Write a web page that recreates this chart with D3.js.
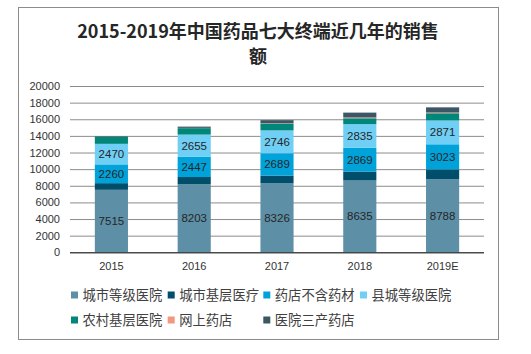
<!DOCTYPE html>
<html><head><meta charset="utf-8">
<script src="https://cdn.jsdelivr.net/npm/d3@7"></script>
<style>body{margin:0;background:#fff}svg{display:block}</style>
</head><body>
<script>
const years = ["2015","2016","2017","2018","2019E"];
const seriesNames = ["城市等级医院","城市基层医疗","药店不含药材","县城等级医院","农村基层医院","网上药店","医院三产药店"];
const cityHospital   = [7515, 8203, 8326, 8635, 8788];
const cityGrassroots = [800, 850, 900, 1080, 1180];
const pharmacy       = [2260, 2447, 2689, 2869, 3023];
const countyHospital = [2470, 2655, 2746, 2835, 2871];
const ruralHospital  = [850, 780, 800, 700, 860];
const onlinePharmacy = [20, 30, 50, 100, 90];
const hospitalStore  = [60, 150, 380, 580, 620];
const labeledSeries  = [0, 2, 3];
const yTicks = [0,2000,4000,6000,8000,10000,12000,14000,16000,18000,20000];
const colors = ["#5d8fa7","#004e6a","#00a2da","#70cff5","#00877a","#f19882","#3b5665"];

const seriesValues = [cityHospital, cityGrassroots, pharmacy, countyHospital, ruralHospital, onlinePharmacy, hospitalStore];
const table = years.map((y,i)=>{ const o={year:y}; seriesNames.forEach((n,k)=>o[n]=seriesValues[k][i]); return o; });

const W=531,H=354;
const svg=d3.select("body").append("svg").attr("width",W).attr("height",H);
svg.append("rect").attr("x",18.5).attr("y",7.5).attr("width",480).attr("height",332)
  .attr("fill","#fff").attr("stroke","#8c8c8c").attr("stroke-width",1);

svg.append("text").attr("x",258).attr("y",38).attr("text-anchor","middle")
  .attr("font-family","Noto Sans CJK SC").attr("font-weight","bold").attr("font-size",18).attr("fill","#262626")
  .text("2015-2019年中国药品七大终端近几年的销售");
svg.append("text").attr("x",258).attr("y",63).attr("text-anchor","middle")
  .attr("font-family","Noto Sans CJK SC").attr("font-weight","bold").attr("font-size",18).attr("fill","#262626")
  .text("额");

const x=d3.scaleBand().domain(years).range([70,484]).paddingInner(0.6).paddingOuter(0.3);
const y=d3.scaleLinear().domain([0,20000]).range([252.3,86]);

// gridlines
const yAxis=d3.axisLeft(y).tickValues(yTicks).tickSize(-(484-70)).tickPadding(10).tickFormat(d3.format("d"));
const gy=svg.append("g").attr("transform","translate(70,0)").call(yAxis);
gy.select(".domain").remove();
gy.selectAll(".tick line").attr("stroke","#8c8c8c").attr("stroke-width",1);
gy.selectAll(".tick text").attr("font-family","Liberation Sans").attr("font-size",11).attr("fill","#333");

const stack=d3.stack().keys(seriesNames);
const stacked=stack(table);
svg.append("g").selectAll("g").data(stacked).join("g").attr("fill",(d,i)=>colors[i])
  .selectAll("rect").data(d=>d).join("rect")
  .attr("x",d=>x(d.data.year)).attr("width",x.bandwidth())
  .attr("y",d=>y(d[1])).attr("height",d=>y(d[0])-y(d[1]));

// labels
labeledSeries.forEach(k=>{
  svg.append("g").selectAll("text").data(stacked[k]).join("text")
    .attr("x",d=>x(d.data.year)+x.bandwidth()/2)
    .attr("y",d=>(y(d[0])+y(d[1]))/2).attr("dy","0.35em")
    .attr("text-anchor","middle").attr("font-family","Liberation Sans").attr("font-size",11.5).attr("fill","#262626")
    .text(d=>d.data[seriesNames[k]]);
});

// x axis
const gx=svg.append("g").attr("transform","translate(0,252.3)").call(d3.axisBottom(x).tickSize(0).tickPadding(10));
gx.select(".domain").attr("d","M70,0.5H484").attr("stroke","#222");
gx.selectAll(".tick text").attr("font-family","Liberation Sans").attr("font-size",11).attr("fill","#333");

// legend
const colX=[71,167.7,263.3,360];
const leg=svg.append("g");
seriesNames.forEach((n,i)=>{
  const r=Math.floor(i/4), c=i%4;
  const cy= r===0?295:320;
  const g=leg.append("g").attr("transform",`translate(${colX[c]},${cy})`);
  g.append("rect").attr("x",0).attr("y",-3.5).attr("width",7).attr("height",7).attr("fill",colors[i]);
  g.append("text").attr("x",11.5).attr("y",0).attr("dy","0.35em")
    .attr("font-family","Noto Sans CJK SC").attr("font-size",13.3).attr("fill","#404040").text(n);
});
</script>
</body></html>
